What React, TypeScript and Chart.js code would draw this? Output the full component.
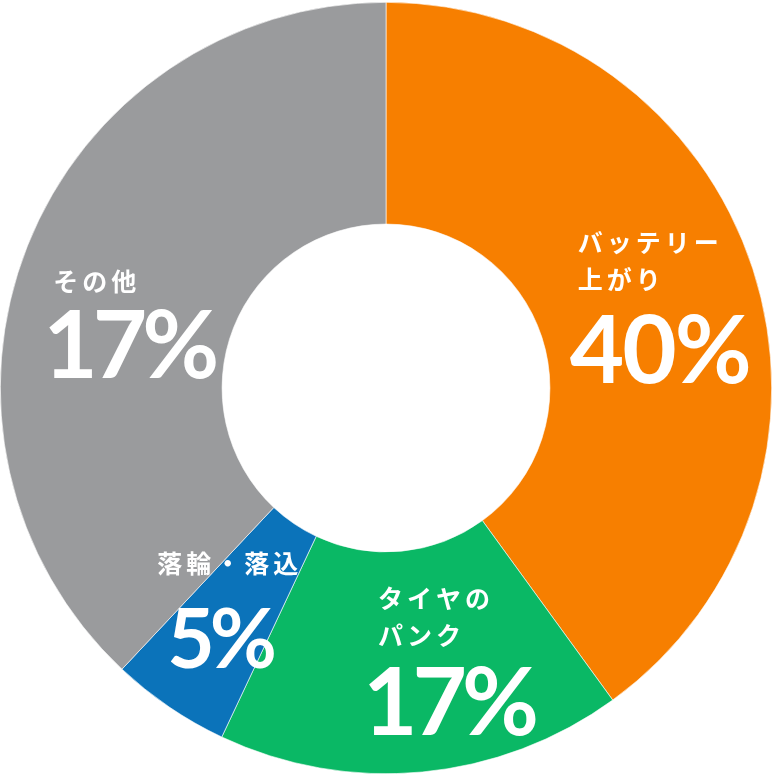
import { useEffect, useRef } from "react"
import { Chart, registerables } from "chart.js"

Chart.register(...registerables)

// データ
const labels = ["バッテリー\n上がり", "タイヤの\nパンク", "落輪・落込", "その他"]
const sliceValues = [40, 17, 5, 38]
const shownPercents = [40, 17, 5, 17]
const sliceColors = ["#F77F00", "#0AB865", "#0B73BA", "#9A9B9D"]

// ラベルの位置（中心からの相対位置、外半径に対する比率）
const labelAnchors = [
  { dx: 0.497, dy: -0.376, gap: 103, numDx: -8, numSize: 94, spacing: -2 },
  { dx: -0.021, dy: 0.546, gap: 99, numDx: -15, numSize: 94, spacing: -5 },
  { dx: -0.593, dy: 0.456, gap: 104, numDx: 10, numSize: 82, spacing: -5 },
  { dx: -0.863, dy: -0.277, gap: 97, numDx: -10, numSize: 94, spacing: -5 },
]

const sliceLabelPlugin = {
  id: "sliceLabels",
  afterDatasetsDraw(chart: Chart) {
    const { ctx } = chart
    const meta = chart.getDatasetMeta(0)
    meta.data.forEach((el: any, i: number) => {
      const a = labelAnchors[i]
      const x = el.x + a.dx * el.outerRadius
      const y = el.y + a.dy * el.outerRadius
      ctx.save()
      ctx.fillStyle = "#ffffff"
      ctx.textAlign = "left"
      ctx.textBaseline = "middle"
      ctx.font = "bold 25px 'Noto Sans CJK JP'"
      ;(ctx as any).letterSpacing = "4px"
      const lines = labels[i].split("\n")
      lines.forEach((line, j) => {
        ctx.fillText(line, x, y + j * 37)
      })
      const lastLineY = y + (lines.length - 1) * 37
      ctx.textBaseline = "alphabetic"
      ctx.font = `bold ${a.numSize}px Lato`
      ;(ctx as any).letterSpacing = `${a.spacing}px`
      ctx.fillText(`${shownPercents[i]}%`, x + a.numDx, lastLineY + a.gap)
      ctx.restore()
    })
  },
}

function DonutChart() {
  const chartRef = useRef<HTMLCanvasElement>(null)
  const chartInstance = useRef<Chart | null>(null)

  useEffect(() => {
    if (!chartRef.current) return
    if (chartInstance.current) chartInstance.current.destroy()
    const ctx = chartRef.current.getContext("2d")
    if (!ctx) return

    chartInstance.current = new Chart(ctx, {
      type: "doughnut",
      data: {
        labels: labels.map((l) => l.replace("\n", "")),
        datasets: [
          {
            data: sliceValues,
            backgroundColor: sliceColors,
            borderColor: "#ffffff",
            borderWidth: 0.6,
            hoverOffset: 0,
          },
        ],
      },
      options: {
        responsive: true,
        maintainAspectRatio: false,
        animation: false,
        cutout: "42.5%",
        layout: { padding: 0 },
        plugins: {
          legend: { display: false },
          tooltip: { enabled: false },
        },
      },
      plugins: [sliceLabelPlugin],
    })

    return () => {
      if (chartInstance.current) {
        chartInstance.current.destroy()
        chartInstance.current = null
      }
    }
  }, [])

  return (
    <div style={{ position: "absolute", left: 0, top: 0, width: 772, height: 776 }}>
      <canvas ref={chartRef} />
    </div>
  )
}

export default function App() {
  return <DonutChart />
}
